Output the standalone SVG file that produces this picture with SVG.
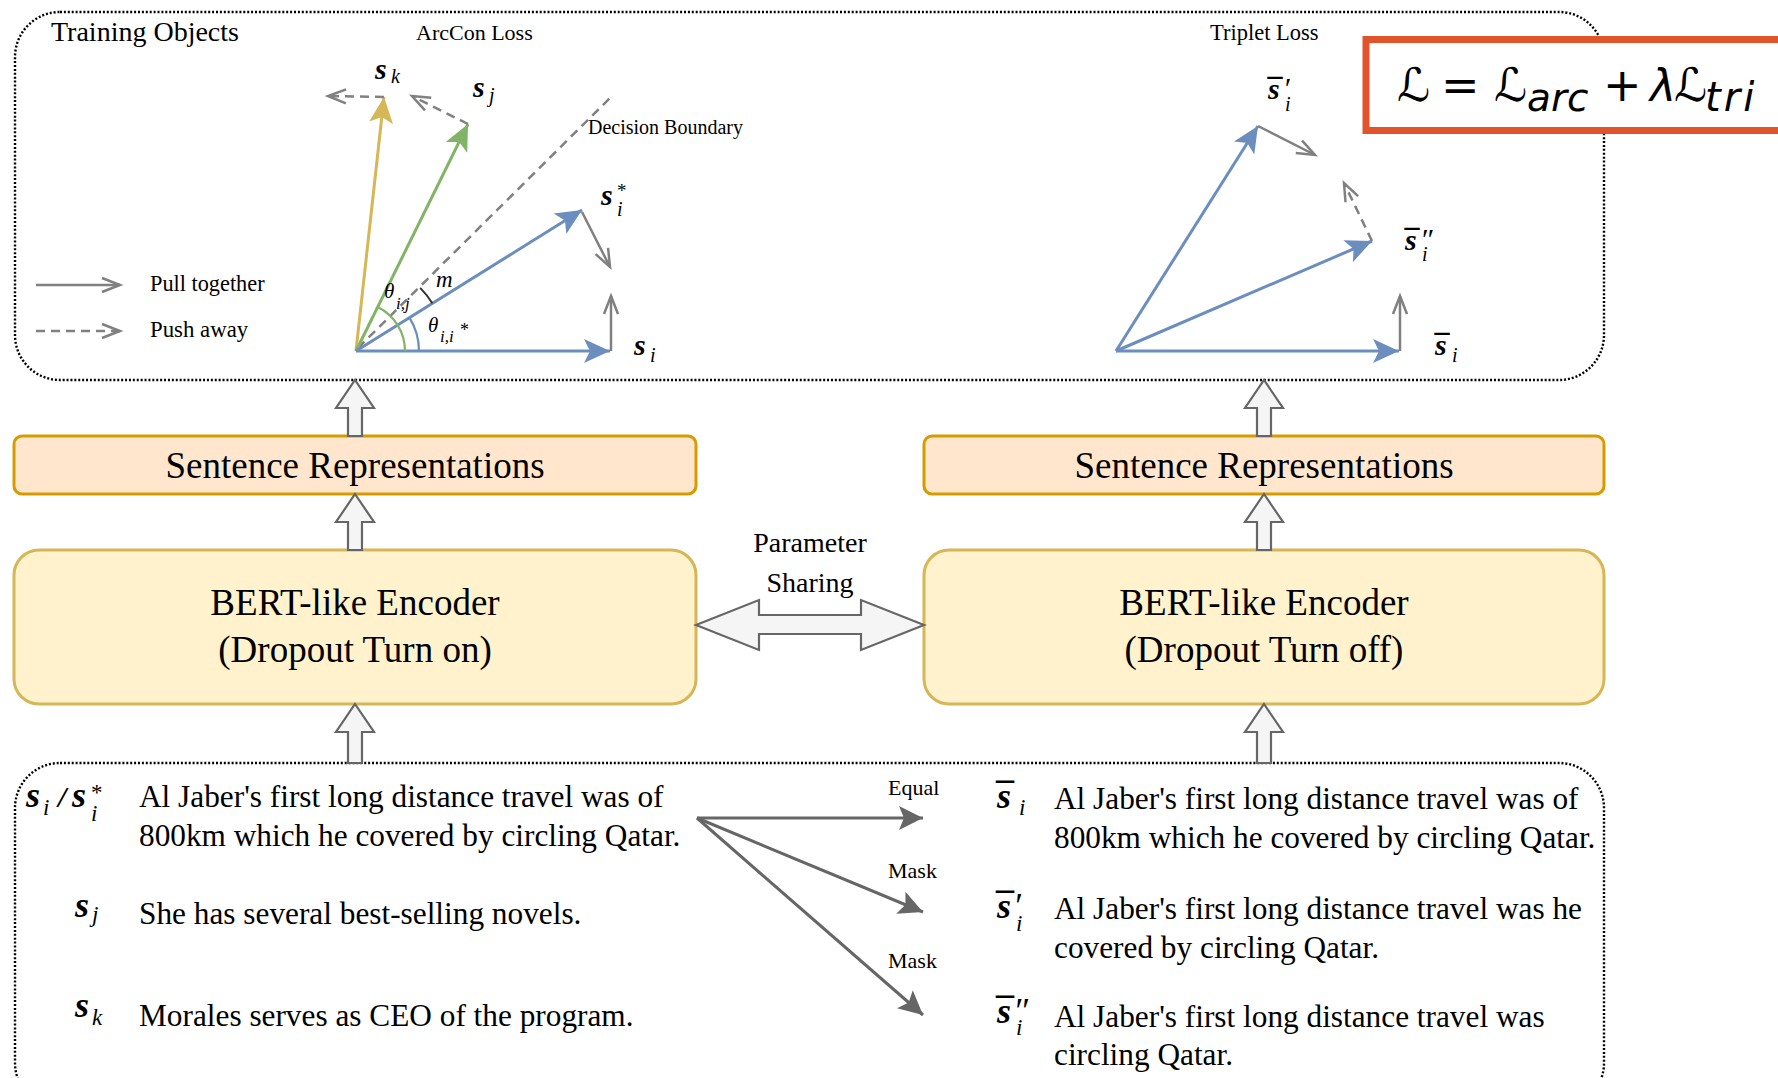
<svg xmlns="http://www.w3.org/2000/svg" width="1778" height="1078" viewBox="0 0 1778 1078">
<style>
  .serif{font-family:"Liberation Serif","Times New Roman",serif;fill:#000}
  .it{font-style:italic}
  .bi{font-style:italic;font-weight:bold}
  .bar{font-weight:bold;text-anchor:middle}
  .sans{font-family:"DejaVu Sans","Noto Sans",sans-serif;fill:#000}
  .dotbox{fill:none;stroke:#000;stroke-width:2.4;stroke-dasharray:2 1.9}
  .vblue{stroke:#6C8EBF;stroke-width:3;fill:none}
  .vgreen{stroke:#82B366;stroke-width:3;fill:none}
  .vgold{stroke:#D6B656;stroke-width:3;fill:none}
  .gray{stroke:#808080;stroke-width:2.5;fill:none}
  .dash{stroke-dasharray:9 6}
  .block{fill:#F5F5F5;stroke:#666;stroke-width:2.2}
  .sr{fill:#FFE6CC;stroke:#D79B00;stroke-width:3}
  .enc{fill:#FFF2CC;stroke:#D6B656;stroke-width:3}
  .flow{stroke:#666;stroke-width:3;fill:none}
</style>
<defs>
  <marker id="hBlue" markerUnits="userSpaceOnUse" markerWidth="28" markerHeight="26" refX="26" refY="12" orient="auto" overflow="visible">
    <path d="M0,0 L26,12 L0,24 L6,12 Z" fill="#6C8EBF"/>
  </marker>
  <marker id="hGreen" markerUnits="userSpaceOnUse" markerWidth="28" markerHeight="26" refX="26" refY="12" orient="auto" overflow="visible">
    <path d="M0,0 L26,12 L0,24 L6,12 Z" fill="#82B366"/>
  </marker>
  <marker id="hGold" markerUnits="userSpaceOnUse" markerWidth="28" markerHeight="26" refX="26" refY="12" orient="auto" overflow="visible">
    <path d="M0,0 L26,12 L0,24 L6,12 Z" fill="#D6B656"/>
  </marker>
  <marker id="hOpen" markerUnits="userSpaceOnUse" markerWidth="22" markerHeight="18" refX="19" refY="8" orient="auto" overflow="visible">
    <path d="M1,1 L19,8 L1,15" fill="none" stroke="#808080" stroke-width="2.5"/>
  </marker>
  <marker id="hFlow" markerUnits="userSpaceOnUse" markerWidth="26" markerHeight="26" refX="24" refY="12" orient="auto" overflow="visible">
    <path d="M0,0 L24,12 L0,24 L5,12 Z" fill="#666"/>
  </marker>
</defs>

<rect width="1778" height="1078" fill="#fff"/>

<!-- training objective panel -->
<g id="training-objects">
  <rect class="dotbox" x="15" y="12" width="1589" height="368" rx="45"/>
  <text class="serif" x="51" y="41" font-size="28">Training Objects</text>
  <text class="serif" x="416" y="40" font-size="22">ArcCon Loss</text>
  <text class="serif" x="1210" y="40" font-size="22.5">Triplet Loss</text>

  <!-- legend -->
  <line class="gray" x1="36" y1="285" x2="120" y2="285" marker-end="url(#hOpen)"/>
  <line class="gray dash" x1="36" y1="331" x2="120" y2="331" marker-end="url(#hOpen)"/>
  <text class="serif" x="150" y="291" font-size="22.3">Pull together</text>
  <text class="serif" x="150" y="337" font-size="22.8">Push away</text>
</g>

<!-- ArcCon vectors -->
<g id="arccon">
  <line class="gray dash" x1="358" y1="348" x2="611" y2="97"/>
  <line class="vgold" x1="356" y1="351" x2="384" y2="97" marker-end="url(#hGold)"/>
  <line class="vgreen" x1="356" y1="351" x2="468" y2="124" marker-end="url(#hGreen)"/>
  <line class="vblue" x1="356" y1="351" x2="582" y2="210" marker-end="url(#hBlue)"/>
  <line class="vblue" x1="356" y1="351" x2="610" y2="351" marker-end="url(#hBlue)"/>
  <line class="gray dash" x1="384" y1="97" x2="328" y2="96" marker-end="url(#hOpen)"/>
  <line class="gray dash" x1="468" y1="124" x2="412" y2="96" marker-end="url(#hOpen)"/>
  <line class="gray" x1="582" y1="212" x2="610" y2="267" marker-end="url(#hOpen)"/>
  <line class="gray" x1="611" y1="351" x2="611" y2="296" marker-end="url(#hOpen)"/>
  <path d="M405,351 A49,49 0 0 0 377.7,307.1" fill="none" stroke="#82B366" stroke-width="2.2"/>
  <path d="M419,351 A63,63 0 0 0 409.4,317.6" fill="none" stroke="#6C8EBF" stroke-width="2.2"/>
  <path d="M432.3,303.3 A90,90 0 0 0 420.2,287.9" fill="none" stroke="#333" stroke-width="2"/>
  <text class="serif" x="588" y="134" font-size="20">Decision Boundary</text>

  <text class="serif bi" x="375" y="79" font-size="30">s</text>
  <text class="serif it" x="391" y="83" font-size="20">k</text>
  <text class="serif bi" x="473" y="97" font-size="30">s</text>
  <text class="serif it" x="489" y="102" font-size="20">j</text>
  <text class="serif bi" x="601" y="205" font-size="30">s</text>
  <text class="serif" x="617" y="197" font-size="19">*</text>
  <text class="serif it" x="617" y="216" font-size="20">i</text>
  <text class="serif bi" x="634" y="355" font-size="30">s</text>
  <text class="serif it" x="650" y="362" font-size="20">i</text>

  <text class="serif it" x="384" y="298" font-size="21">θ</text>
  <text class="serif it" x="396" y="309" font-size="17">i,j</text>
  <text class="serif it" x="436" y="287" font-size="23">m</text>
  <text class="serif it" x="428" y="332" font-size="21">θ</text>
  <text class="serif it" x="440" y="342" font-size="17">i,i</text>
  <text class="serif" x="460" y="336" font-size="18">*</text>
</g>

<!-- triplet vectors -->
<g id="triplet">
  <line class="vblue" x1="1116" y1="351" x2="1399" y2="351" marker-end="url(#hBlue)"/>
  <line class="vblue" x1="1116" y1="351" x2="1258" y2="126" marker-end="url(#hBlue)"/>
  <line class="vblue" x1="1116" y1="351" x2="1372" y2="241" marker-end="url(#hBlue)"/>
  <line class="gray" x1="1258" y1="126" x2="1315" y2="155" marker-end="url(#hOpen)"/>
  <line class="gray dash" x1="1372" y1="241" x2="1344" y2="183" marker-end="url(#hOpen)"/>
  <line class="gray" x1="1400" y1="351" x2="1400" y2="296" marker-end="url(#hOpen)"/>

  <text class="serif bi" x="1268" y="99" font-size="30">s</text>
  <text class="serif bar" x="1275" y="99" font-size="30">¯</text>
  <text class="serif it" x="1283" y="98" font-size="30">′</text>
  <text class="serif it" x="1285" y="111" font-size="20">i</text>

  <text class="serif bi" x="1405" y="250" font-size="30">s</text>
  <text class="serif bar" x="1412" y="250" font-size="30">¯</text>
  <text class="serif it" x="1420" y="249" font-size="30">″</text>
  <text class="serif it" x="1422" y="261" font-size="20">i</text>

  <text class="serif bi" x="1435" y="355" font-size="30">s</text>
  <text class="serif bar" x="1442" y="355" font-size="30">¯</text>
  <text class="serif it" x="1452" y="362" font-size="20">i</text>
</g>

<!-- overall loss -->
<g id="loss-formula">
  <rect x="1366" y="39.5" width="440" height="91" fill="#fff" stroke="#E0532B" stroke-width="7"/>
  <text class="sans" x="1397" y="101" font-size="46">ℒ</text>
  <text class="sans" x="1441" y="101" font-size="46">=</text>
  <text class="sans" x="1494" y="101" font-size="46">ℒ</text>
  <text class="sans it" x="1527" y="111" font-size="39">arc</text>
  <text class="sans" x="1603" y="101" font-size="46">+</text>
  <text class="sans it" x="1650" y="101" font-size="44">λ</text>
  <text class="sans" x="1674" y="101" font-size="46">ℒ</text>
  <text class="sans it" x="1705" y="111" font-size="40" letter-spacing="3">tri</text>
</g>

<!-- sentence representations -->
<g id="sent-rep-left">
  <rect class="sr" x="14" y="436" width="682" height="58" rx="8"/>
  <text class="serif" x="355" y="478" font-size="37" text-anchor="middle">Sentence Representations</text>
</g>
<g id="sent-rep-right">
  <rect class="sr" x="924" y="436" width="680" height="58" rx="8"/>
  <text class="serif" x="1264" y="478" font-size="37" text-anchor="middle">Sentence Representations</text>
</g>

<!-- encoders -->
<g id="encoder-left">
  <rect class="enc" x="14" y="550" width="682" height="154" rx="25"/>
  <text class="serif" x="355" y="615" font-size="37" text-anchor="middle">BERT-like Encoder</text>
  <text class="serif" x="355" y="662" font-size="37" text-anchor="middle">(Dropout Turn on)</text>
</g>
<g id="encoder-right">
  <rect class="enc" x="924" y="550" width="680" height="154" rx="25"/>
  <text class="serif" x="1264" y="615" font-size="37" text-anchor="middle">BERT-like Encoder</text>
  <text class="serif" x="1264" y="662" font-size="37" text-anchor="middle">(Dropout Turn off)</text>
</g>

<!-- input sentences -->
<g id="inputs">
  <rect class="dotbox" x="15" y="763" width="1589" height="345" rx="45"/>

  <text class="serif bi" x="26" y="807" font-size="36">s</text>
  <text class="serif it" x="43" y="815" font-size="23">i</text>
  <text class="serif bi" x="58" y="807" font-size="30">/</text>
  <text class="serif bi" x="72" y="807" font-size="36">s</text>
  <text class="serif" x="91" y="800" font-size="23">*</text>
  <text class="serif it" x="91" y="821" font-size="23">i</text>
  <text class="serif" x="139" y="807" font-size="31.3">Al Jaber's first long distance travel was of</text>
  <text class="serif" x="139" y="846" font-size="31.3">800km which he covered by circling Qatar.</text>

  <text class="serif bi" x="75" y="917" font-size="36">s</text>
  <text class="serif it" x="92" y="922" font-size="23">j</text>
  <text class="serif" x="139" y="924" font-size="31.3">She has several best-selling novels.</text>

  <text class="serif bi" x="75" y="1017" font-size="36">s</text>
  <text class="serif it" x="92" y="1025" font-size="23">k</text>
  <text class="serif" x="139" y="1026" font-size="31.3">Morales serves as CEO of the program.</text>

  <text class="serif bi" x="997" y="808" font-size="36">s</text>
  <text class="serif bar" x="1005" y="808" font-size="36">¯</text>
  <text class="serif it" x="1019" y="815" font-size="23">i</text>
  <text class="serif" x="1054" y="809" font-size="31.3">Al Jaber's first long distance travel was of</text>
  <text class="serif" x="1054" y="848" font-size="31.3">800km which he covered by circling Qatar.</text>

  <text class="serif bi" x="997" y="918" font-size="36">s</text>
  <text class="serif bar" x="1005" y="918" font-size="36">¯</text>
  <text class="serif it" x="1013" y="918" font-size="36">′</text>
  <text class="serif it" x="1016" y="931" font-size="23">i</text>
  <text class="serif" x="1054" y="919" font-size="31.3">Al Jaber's first long distance travel was he</text>
  <text class="serif" x="1054" y="958" font-size="31.3">covered by circling Qatar.</text>

  <text class="serif bi" x="997" y="1023" font-size="36">s</text>
  <text class="serif bar" x="1005" y="1023" font-size="36">¯</text>
  <text class="serif it" x="1013" y="1023" font-size="36">″</text>
  <text class="serif it" x="1016" y="1035" font-size="23">i</text>
  <text class="serif" x="1054" y="1027" font-size="31.3">Al Jaber's first long distance travel was</text>
  <text class="serif" x="1054" y="1065" font-size="31.3">circling Qatar.</text>
</g>

<!-- connectors -->
<g id="connectors">
  <polygon class="block" points="355,380 374,408 362,408 362,436 348,436 348,408 336,408"/>
  <polygon class="block" points="355,494 374,522 362,522 362,550 348,550 348,522 336,522"/>
  <polygon class="block" points="355,704 374,732 362,732 362,763 348,763 348,732 336,732"/>
  <polygon class="block" points="1264,380 1283,408 1271,408 1271,436 1257,436 1257,408 1245,408"/>
  <polygon class="block" points="1264,494 1283,522 1271,522 1271,550 1257,550 1257,522 1245,522"/>
  <polygon class="block" points="1264,704 1283,732 1271,732 1271,763 1257,763 1257,732 1245,732"/>

  <polygon class="block" points="696,625 759,600 759,615 861,615 861,600 924,625 861,650 861,634 759,634 759,650"/>
  <text class="serif" x="810" y="552" font-size="28" text-anchor="middle">Parameter</text>
  <text class="serif" x="810" y="592" font-size="28" text-anchor="middle">Sharing</text>

  <line class="flow" x1="697" y1="818" x2="923" y2="818" marker-end="url(#hFlow)"/>
  <line class="flow" x1="697" y1="818" x2="923" y2="912" marker-end="url(#hFlow)"/>
  <line class="flow" x1="697" y1="818" x2="923" y2="1015" marker-end="url(#hFlow)"/>
  <text class="serif" x="888" y="795" font-size="22">Equal</text>
  <text class="serif" x="888" y="878" font-size="22">Mask</text>
  <text class="serif" x="888" y="968" font-size="22">Mask</text>
</g>
</svg>
